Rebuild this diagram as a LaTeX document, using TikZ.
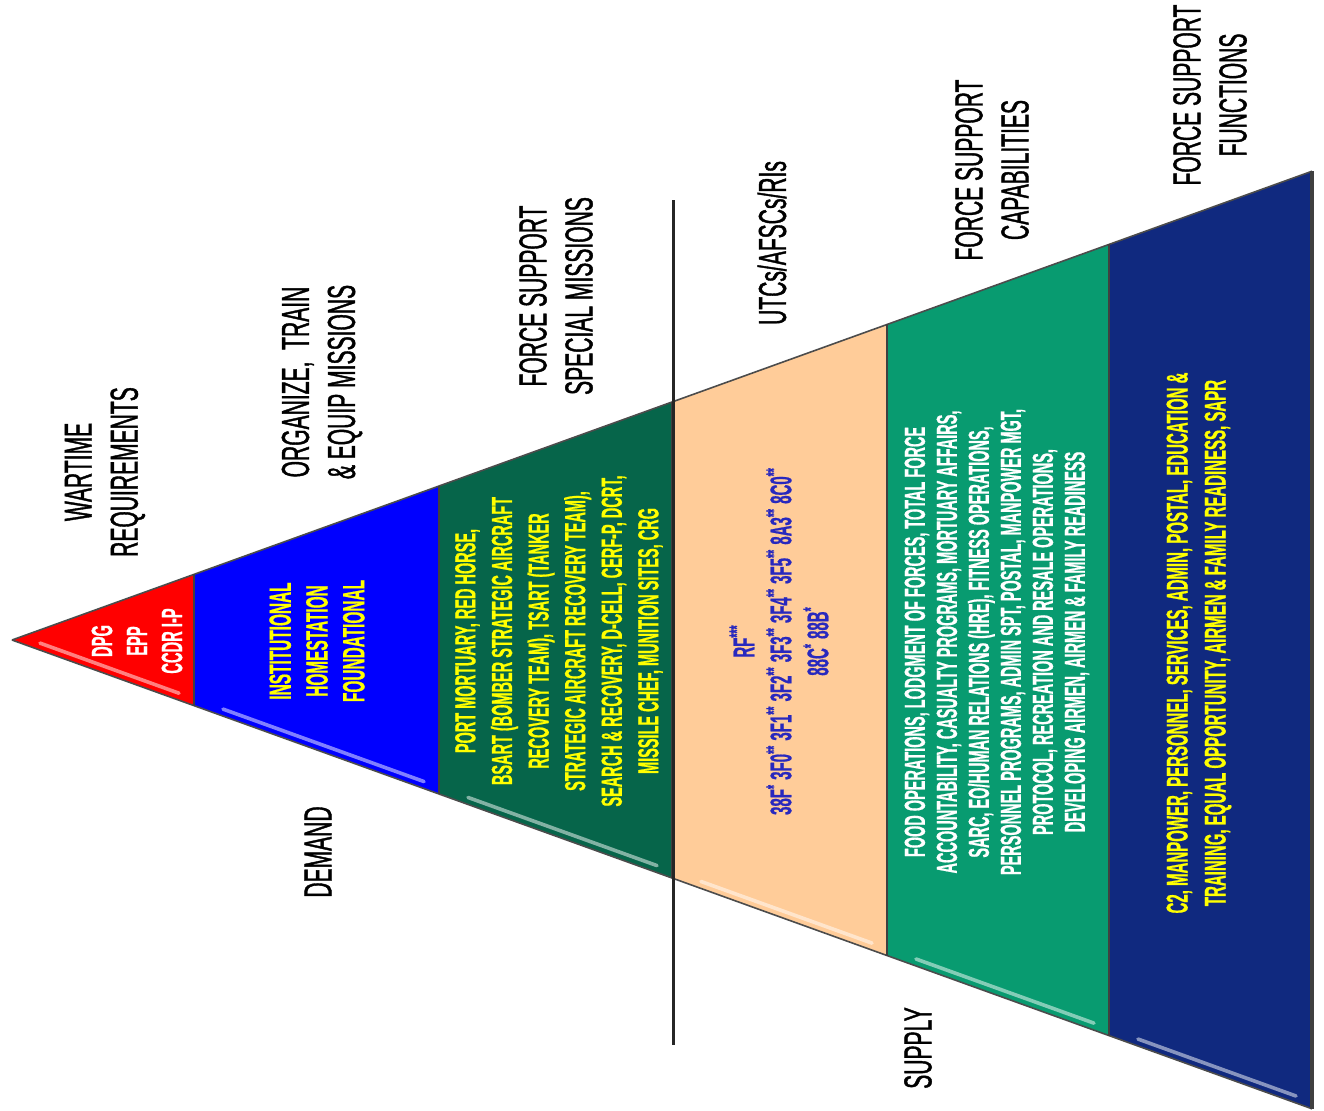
\documentclass[tikz,border=0pt]{standalone}
\usepackage{fontspec}
\setmainfont{Liberation Sans}
\newfontfamily\labelfont{Liberation Sans}[FakeStretch=0.54, FakeBold=1]
\newfontfamily\bandfont{Liberation Sans}[FakeStretch=0.5, FakeBold=0.6]

\definecolor{bandred}{HTML}{FF0000}
\definecolor{bandblue}{HTML}{0000FF}
\definecolor{banddkgreen}{HTML}{06654A}
\definecolor{bandpeach}{HTML}{FFCC99}
\definecolor{bandteal}{HTML}{089B70}
\definecolor{bandnavy}{HTML}{10297F}
\definecolor{rfblue}{HTML}{2828BE}
\definecolor{labelyellow}{HTML}{FFFF00}

% one slice of the pyramid: left x, right x, fill colour
\newcommand{\band}[3]{%
	\fill[#3] (#1,{640-0.3606*(#1-12)}) -- (#2,{640-0.3606*(#2-12)}) -- (#2,{640+0.3606*(#2-12)}) -- (#1,{640+0.3606*(#1-12)}) -- cycle;
	\draw[line width=0.8pt, black!70] (#1,{640-0.3606*(#1-12)}) -- (#2,{640-0.3606*(#2-12)});
	\draw[line width=0.8pt, black!70] (#1,{640+0.3606*(#1-12)}) -- (#2,{640+0.3606*(#2-12)});
	\draw[line width=2.2pt, black!75] (#2,{640-0.3606*(#2-12)}) -- (#2,{640+0.3606*(#2-12)});
	\draw[white, opacity=0.5, line width=1.8pt, line cap=round] ({#1+28},{640+0.3606*(#1+16)-7}) -- ({#2-16},{640+0.3606*(#2-28)-7});
}

\begin{document}
\begin{tikzpicture}[x=0.5pt, y=-0.5pt,
		labeltext/.style={rotate=90, align=center, inner sep=0pt, font=\labelfont\fontsize{19.5}{23}\selectfont},
		bandtext/.style 2 args={rotate=90, align=center, inner sep=0pt, font=\bandfont\bfseries\fontsize{#1}{#2}\selectfont}]
		%%%%% START %%%%%
		\useasboundingbox (0,0) rectangle (1324,1110);
		
		% the pyramid, apex on the left
		\band{12}{195}{bandred}
		\band{195}{440}{bandblue}
		\band{440}{673}{banddkgreen}
		\band{673}{888}{bandpeach}
		\band{888}{1110}{bandteal}
		\band{1110}{1312}{bandnavy}
		
		% demand / supply divider
		\draw[line width=1.5pt, black!85] (673,200) -- (673,1045);
		
		% text inside the slices
		\node[bandtext={14.7}{17.5}, text=white] (redtext) at (137,641) {DPG\\EPP\\CCDR I-P};
		\node[bandtext={15.4}{18.4}, text=labelyellow] (bluetext) at (317,641) {INSTITUTIONAL\\HOMESTATION\\FOUNDATIONAL};
		\node[bandtext={14.5}{18.3}, text=labelyellow] (greentext) at (559,641) {PORT MORTUARY, RED HORSE,\\BSART (BOMBER STRATEGIC AIRCRAFT\\RECOVERY TEAM), TSART (TANKER\\STRATEGIC AIRCRAFT RECOVERY TEAM),\\SEARCH \& RECOVERY, D-CELL, CERF-P, DCRT,\\MISSILE CHEF, MUNITION SITES, CRG};
		\node[bandtext={15}{18.5}, text=rfblue] (peachtext) at (779,641) {RF\textsuperscript{***}\\38F\textsuperscript{*} 3F0\textsuperscript{**} 3F1\textsuperscript{**} 3F2\textsuperscript{**} 3F3\textsuperscript{**} 3F4\textsuperscript{**} 3F5\textsuperscript{**} 8A3\textsuperscript{**} 8C0\textsuperscript{**}\\88C\textsuperscript{*} 88B\textsuperscript{*}};
		\node[bandtext={14.5}{16}, text=white] (tealtext) at (997,642) {FOOD OPERATIONS, LODGMENT OF FORCES, TOTAL FORCE\\ACCOUNTABILITY, CASUALTY PROGRAMS, MORTUARY AFFAIRS,\\SARC, EO/HUMAN RELATIONS (HRE), FITNESS OPERATIONS,\\PERSONNEL PROGRAMS, ADMIN SPT, POSTAL, MANPOWER MGT,\\PROTOCOL, RECREATION AND RESALE OPERATIONS,\\DEVELOPING AIRMEN, AIRMEN \& FAMILY READINESS};
		\node[bandtext={15}{19}, text=labelyellow] (navytext) at (1199,643) {C2, MANPOWER, PERSONNEL, SERVICES, ADMIN, POSTAL, EDUCATION \&\\TRAINING, EQUAL OPPORTUNITY, AIRMEN \& FAMILY READINESS, SAPR};
		
		% headings above the slices
		\node[labeltext] (wartime) at (105,472) {WARTIME\\REQUIREMENTS};
		\node[labeltext] (organize) at (322,382) {ORGANIZE,\ \ TRAIN\\\& EQUIP MISSIONS};
		\node[labeltext] (special) at (556,296) {FORCE SUPPORT\\SPECIAL MISSIONS};
		\node[labeltext] (utcs) at (772,243) {UTCs/AFSCs/RIs};
		\node[labeltext] (capabilities) at (992,170) {FORCE SUPPORT\\CAPABILITIES};
		\node[labeltext] (functions) at (1210,95) {FORCE SUPPORT\\FUNCTIONS};
		
		\node[labeltext] (demand) at (318,852) {DEMAND};
		\node[labeltext] (supply) at (918,1048) {SUPPLY};
		%%%%% END %%%%%
\end{tikzpicture}
\end{document}
